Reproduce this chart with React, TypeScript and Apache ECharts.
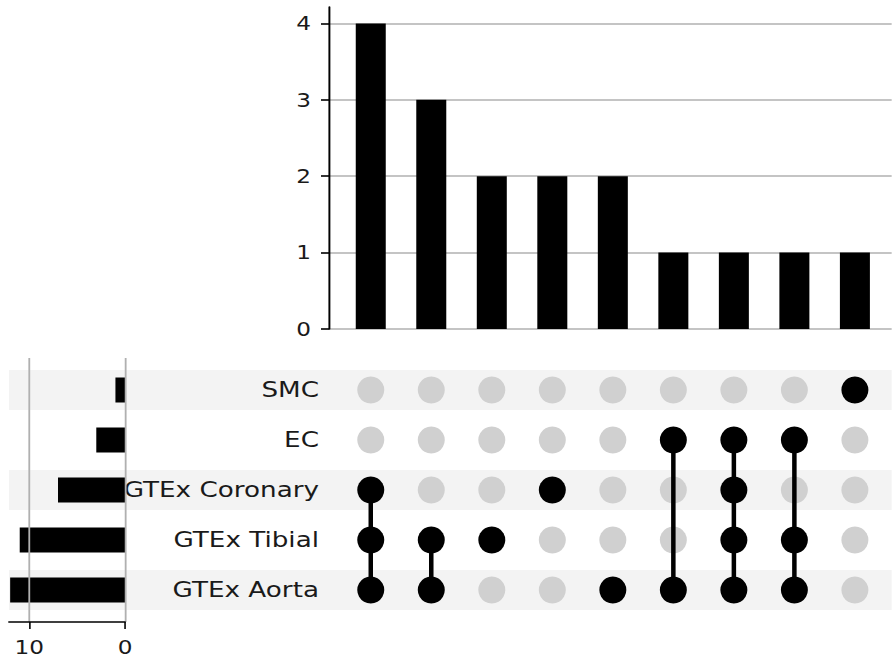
import React, { useEffect, useRef } from "react";
import * as echarts from "echarts";

// Sets, listed top to bottom in the membership matrix
const setNames = ["SMC", "EC", "GTEx Coronary", "GTEx Tibial", "GTEx Aorta"];
// Total number of items in each set
const setSizes = [1, 3, 7, 11, 12];
// Intersection sizes, sorted in descending order
const intersectionSizes = [4, 3, 2, 2, 2, 1, 1, 1, 1];
// Members of each intersection (indices into setNames)
const intersectionMembers = [
  [2, 3, 4],
  [3, 4],
  [3],
  [2],
  [4],
  [1, 4],
  [1, 2, 3, 4],
  [1, 3, 4],
  [0],
];
const sizeTicks = [0, 1, 2, 3, 4];
const totalTicks = [0, 10];

// The figure is drawn with a horizontal stretch; x distances are divided by it.
const SX = 1.22;
const FIG_W = 892;
const FIG_H = 660;
const px = (v: number) => v / SX;

const FONT = "DejaVu Sans";
const TEXT = "#1a1a1a";
const GRID_GREY = "#b0b0b0";

function buildOption(): echarts.EChartsCoreOption {
  const colMin = -0.69;
  const colMax = 8.61;

  const blackDots: number[][] = [];
  const greyDots: number[][] = [];
  const connectors: number[][] = [];
  intersectionMembers.forEach((members, c) => {
    setNames.forEach((_, r) => {
      if (members.includes(r)) blackDots.push([c, r]);
      else greyDots.push([c, r]);
    });
    if (members.length > 1) {
      connectors.push([c, Math.min(...members), Math.max(...members)]);
    }
  });

  const shadedRows = setNames.map((_, i) => i).filter((i) => i % 2 === 0);

  return {
    animation: false,
    textStyle: { fontFamily: FONT },
    grid: [
      { left: px(329), right: 0, top: 7, height: 322 },
      { left: px(329), right: 0, top: 365, height: 250 },
      { left: px(9), width: px(116), top: 358, height: 264 },
      { left: px(9), right: 0, top: 365, height: 250 },
    ],
    xAxis: [
      { type: "value", gridIndex: 0, min: colMin, max: colMax, show: false },
      { type: "value", gridIndex: 1, min: colMin, max: colMax, show: false },
      {
        type: "value",
        gridIndex: 2,
        inverse: true,
        min: 0,
        max: 12.12,
        interval: 10,
        z: 0,
        axisLine: {
          show: true,
          onZero: false,
          lineStyle: { color: "#000", width: 1.6 },
        },
        axisTick: {
          show: true,
          customValues: totalTicks,
          length: 7,
          lineStyle: { color: "#000", width: 1.3 },
        },
        axisLabel: {
          customValues: totalTicks,
          fontSize: 19,
          color: TEXT,
          margin: 16,
        },
        splitLine: {
          show: true,
          lineStyle: { color: GRID_GREY, width: 1.5 },
        },
      },
      { type: "value", gridIndex: 3, min: 0, max: 1, show: false },
    ],
    yAxis: [
      {
        type: "value",
        gridIndex: 0,
        min: 0,
        max: 4.215,
        interval: 1,
        axisLine: {
          show: true,
          onZero: false,
          lineStyle: { color: "#000", width: 1.6 },
        },
        axisTick: {
          show: true,
          customValues: sizeTicks,
          length: px(8),
          lineStyle: { color: "#000", width: 1.6 },
        },
        axisLabel: {
          customValues: sizeTicks,
          fontSize: 19,
          color: TEXT,
          margin: px(18),
        },
        splitLine: {
          show: true,
          lineStyle: { color: GRID_GREY, width: 1.5 },
        },
      },
      {
        type: "category",
        gridIndex: 1,
        data: setNames,
        inverse: true,
        z: -2,
        axisLine: { show: false },
        axisTick: { show: false },
        splitLine: { show: false },
        axisLabel: { fontSize: 21.5, color: TEXT, margin: px(10) },
      },
      {
        type: "value",
        gridIndex: 2,
        min: -0.64,
        max: 4.64,
        inverse: true,
        show: false,
      },
      {
        type: "value",
        gridIndex: 3,
        min: -0.5,
        max: 4.5,
        inverse: true,
        show: false,
      },
    ],
    series: [
      {
        // alternating row shading across the whole figure width
        type: "custom",
        xAxisIndex: 3,
        yAxisIndex: 3,
        z: -3,
        silent: true,
        data: shadedRows.map((r) => [0, r]),
        renderItem: (_params: any, api: any) => {
          const r = api.value(1);
          const p0 = api.coord([0, r - 0.4]);
          const p1 = api.coord([1, r + 0.4]);
          return {
            type: "rect",
            shape: { x: p0[0], y: p0[1], width: p1[0] - p0[0], height: p1[1] - p0[1] },
            style: { fill: "#f3f3f3" },
          };
        },
      },
      {
        // intersection sizes
        type: "bar",
        xAxisIndex: 0,
        yAxisIndex: 0,
        z: 2,
        barWidth: px(30),
        itemStyle: { color: "#000" },
        data: intersectionSizes.map((v, i) => [i, v]),
      },
      {
        type: "scatter",
        xAxisIndex: 1,
        yAxisIndex: 1,
        z: 2,
        symbol: "circle",
        symbolSize: [px(27), 27],
        itemStyle: { color: "#d0d0d0", opacity: 1 },
        data: greyDots,
      },
      {
        // vertical connectors between member dots
        type: "custom",
        xAxisIndex: 1,
        yAxisIndex: 1,
        z: 3,
        data: connectors,
        renderItem: (_params: any, api: any) => {
          const c = api.value(0);
          const a = api.coord([c, api.value(1)]);
          const b = api.coord([c, api.value(2)]);
          return {
            type: "line",
            shape: { x1: a[0], y1: a[1], x2: b[0], y2: b[1] },
            style: { stroke: "#000", lineWidth: px(4.5) },
          };
        },
      },
      {
        type: "scatter",
        xAxisIndex: 1,
        yAxisIndex: 1,
        z: 4,
        symbol: "circle",
        symbolSize: [px(27), 27],
        itemStyle: { color: "#000", opacity: 1 },
        data: blackDots,
      },
      {
        // set totals, growing leftwards
        type: "custom",
        xAxisIndex: 2,
        yAxisIndex: 2,
        z: -1,
        data: setSizes.map((v, i) => [v, i]),
        renderItem: (_params: any, api: any) => {
          const v = api.value(0);
          const r = api.value(1);
          const p0 = api.coord([0, r]);
          const p1 = api.coord([v, r]);
          const h = 25;
          return {
            type: "rect",
            shape: {
              x: Math.min(p0[0], p1[0]),
              y: p0[1] - h / 2,
              width: Math.abs(p1[0] - p0[0]),
              height: h,
            },
            style: { fill: "#000" },
          };
        },
      },
    ],
  };
}

export default function App() {
  const ref = useRef<HTMLDivElement>(null);

  useEffect(() => {
    if (!ref.current) return;
    const chart = echarts.init(ref.current, null, { renderer: "svg" });
    chart.setOption(buildOption());
    return () => chart.dispose();
  }, []);

  return (
    <div
      style={{
        position: "fixed",
        left: 0,
        top: 0,
        width: FIG_W,
        height: FIG_H,
        overflow: "hidden",
        background: "#fff",
      }}
    >
      <div
        ref={ref}
        style={{
          width: px(FIG_W),
          height: FIG_H,
          transform: `scaleX(${SX})`,
          transformOrigin: "0 0",
        }}
      />
    </div>
  );
}
